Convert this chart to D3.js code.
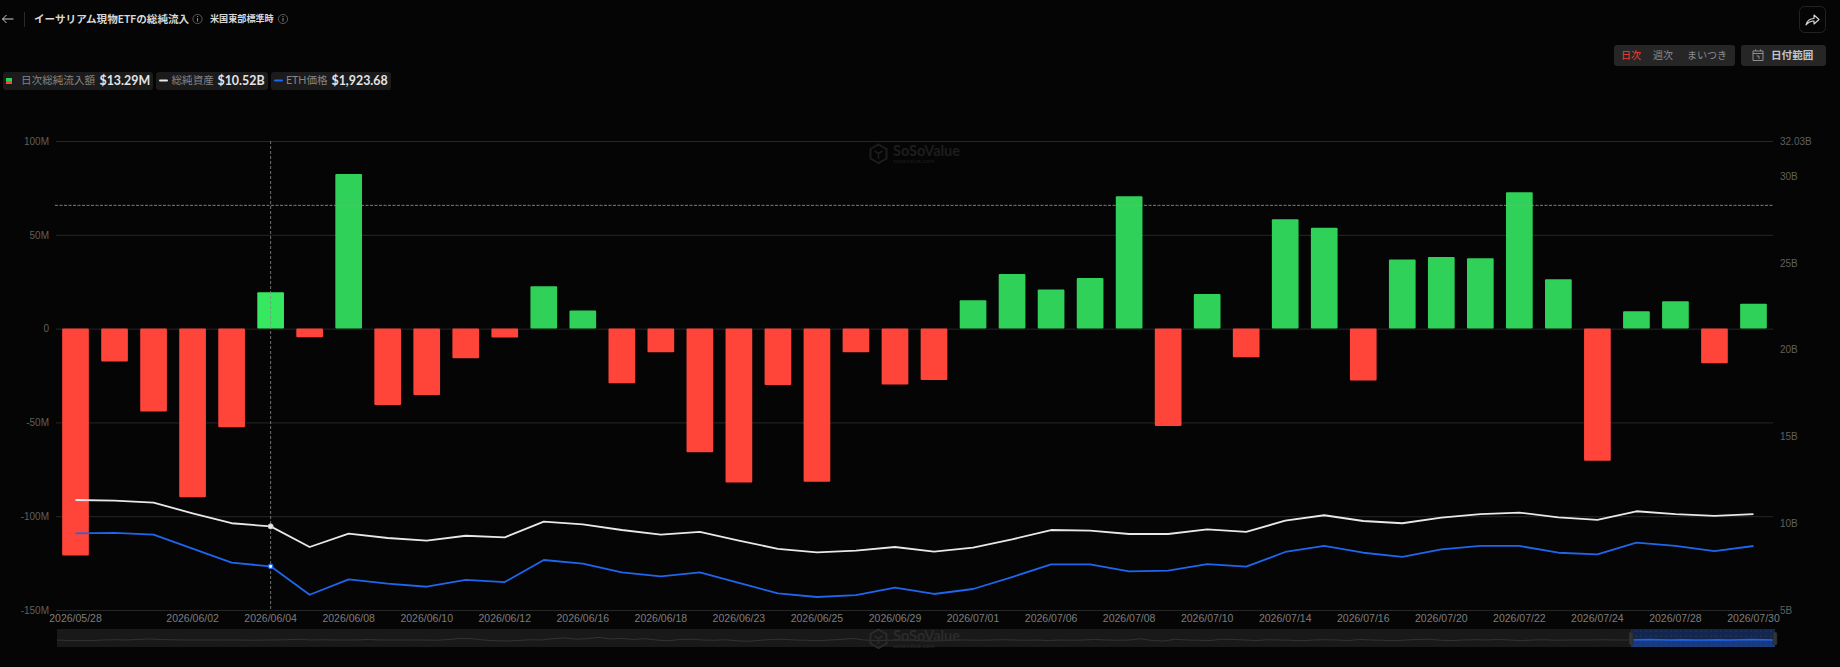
<!DOCTYPE html>
<html lang="ja">
<head>
<meta charset="utf-8">
<title>イーサリアム現物ETFの総純流入</title>
<script src="https://cdn.jsdelivr.net/npm/d3@7/dist/d3.min.js"></script>
<style>
html, body { margin: 0; padding: 0; background: #050505; overflow: hidden; }
svg { display: block; font-family: Lato, "Noto Sans CJK JP", sans-serif; }
</style>
</head>
<body>
<svg id="chart" width="1840" height="667"></svg>
<script>
const dates = [
  "2026/05/28","2026/05/29","2026/06/01","2026/06/02","2026/06/03","2026/06/04","2026/06/05",
  "2026/06/08","2026/06/09","2026/06/10","2026/06/11","2026/06/12","2026/06/15","2026/06/16",
  "2026/06/17","2026/06/18","2026/06/22","2026/06/23","2026/06/24","2026/06/25","2026/06/26",
  "2026/06/29","2026/06/30","2026/07/01","2026/07/02","2026/07/06","2026/07/07","2026/07/08",
  "2026/07/09","2026/07/10","2026/07/13","2026/07/14","2026/07/15","2026/07/16","2026/07/17",
  "2026/07/20","2026/07/21","2026/07/22","2026/07/23","2026/07/24","2026/07/27","2026/07/28",
  "2026/07/29","2026/07/30"
];
// daily net inflow, $M
const netInflow = [
  -121.0,-17.6,-44.2,-89.9,-52.6,19.4,-4.6,82.4,-40.7,-35.4,-15.8,-4.8,22.6,9.6,-29.1,-12.6,
  -65.9,-82.1,-30.0,-81.7,-12.6,-29.8,-27.4,15.1,29.1,20.8,27.0,70.5,-51.9,18.5,-15.3,58.3,
  53.8,-27.7,36.8,38.2,37.5,72.7,26.3,-70.4,9.2,14.6,-18.5,13.29
];
// total net assets, $B
const netAssets = [
  11.34,11.30,11.19,10.57,10.00,9.82,8.63,9.40,9.15,9.00,9.28,9.19,10.09,9.94,9.61,9.34,
  9.50,9.00,8.52,8.32,8.42,8.63,8.36,8.59,9.07,9.61,9.57,9.38,9.38,9.65,9.50,10.15,
  10.46,10.13,10.00,10.32,10.53,10.61,10.34,10.19,10.69,10.53,10.42,10.52
];
// ETH price, $ (its axis is hidden in the chart, so the scale is an estimate)
const ethPrice = [
  2007,2010,1999,1906,1813,1789,1601,1703,1674,1654,1699,1685,1831,1807,1749,1723,
  1749,1679,1610,1586,1599,1648,1606,1639,1718,1802,1802,1756,1760,1804,1787,1884,
  1924,1879,1851,1901,1924,1924,1879,1868,1946,1924,1890,1923.68
];
// zoom slider overview, rough reading of the faint line
const overview = [
  50,48,47,48,50,51,50,52,54,52,51,50,50,50,50,50,50,49,50,50,51,53,50,51,50,50,50,52,50,50,
  50,50,50,49,52,56,55,50,47,46,48,51,50,55,58,53,55,60,54,56,52,55,50,47,52,53,50,49,51,47,
  45,49,52,53,50,49,47,50,52,56,50,48,49,50,49,47,46,48,50,50,49,50,51,50,49,50,48,50,49,50,
  52,50,49,50,55,48,46,53,50,49,48,53,52,50,48,51,50,49,47,50,51,50,48,52,50,49,47,50,52,53,
  49,48,50,51,50,52,50,48,50,51,49,50,50,50,51,50,50,51,52,51,50,51,50,50,51,50,51,52,51,50
];

const leftTicks = [-150, -100, -50, 0, 50, 100];
const rightTicks = [5, 10, 15, 20, 25, 30, 32.03];
const shownDates = [
  "2026/05/28","2026/06/02","2026/06/04","2026/06/08","2026/06/10","2026/06/12","2026/06/16",
  "2026/06/18","2026/06/23","2026/06/25","2026/06/29","2026/07/01","2026/07/06","2026/07/08",
  "2026/07/10","2026/07/14","2026/07/16","2026/07/20","2026/07/22","2026/07/24","2026/07/28",
  "2026/07/30"
];
const hoverDate = "2026/06/04";
const hoverY = 65.7; // crosshair level on the inflow scale

const plotL = 56, plotR = 1773, plotT = 141, plotB = 610;
const svg = d3.select("#chart");

const x = d3.scaleBand().domain(dates).range([plotL, plotR]).paddingInner(0.316).paddingOuter(0.158);
const yFlow = d3.scaleLinear().domain([-150, 100]).range([plotB, plotT]);
const yAssets = d3.scaleLinear().domain([5, 32.03]).range([plotB, plotT]);
const yPrice = d3.scaleLinear().domain([1500, 4604]).range([plotB, plotT]);
const cx = d => x(d) + x.bandwidth() / 2;

svg.append("rect").attr("width", 1840).attr("height", 667).attr("fill", "#050505");

// left axis + gridlines
const gLeft = svg.append("g")
  .attr("transform", "translate(" + plotL + ",0)")
  .call(d3.axisLeft(yFlow).tickValues(leftTicks).tickSize(-(plotR - plotL)).tickPadding(7)
    .tickFormat(d => d === 0 ? "0" : d + "M"));
gLeft.select(".domain").remove();
gLeft.selectAll("line").attr("stroke", "#272727");
gLeft.selectAll("text").attr("fill", "#5f5f5f").style("font-size", "10px").style("font-family", "inherit");

// right axis
const gRight = svg.append("g")
  .attr("transform", "translate(" + plotR + ",0)")
  .call(d3.axisRight(yAssets).tickValues(rightTicks).tickSize(0).tickPadding(7)
    .tickFormat(d => d + "B"));
gRight.select(".domain").remove();
gRight.selectAll("text").attr("fill", "#5f5f5f").style("font-size", "10px").style("font-family", "inherit");

// bottom axis
const gBottom = svg.append("g")
  .attr("transform", "translate(0," + plotB + ")")
  .call(d3.axisBottom(x).tickValues(shownDates).tickSize(0).tickPadding(5));
gBottom.select(".domain").remove();
gBottom.selectAll("text").attr("fill", "#7d7d7d").style("font-size", "10.5px").style("font-family", "inherit");

drawWatermark(svg.append("g").attr("transform", "translate(870,144)"), "#1d1d1d");

// bars
svg.append("g").selectAll("rect").data(dates).join("rect")
  .attr("x", d => x(d))
  .attr("width", x.bandwidth())
  .attr("y", (d, i) => yFlow(Math.max(0, netInflow[i])))
  .attr("height", (d, i) => Math.abs(yFlow(netInflow[i]) - yFlow(0)))
  .attr("rx", 1)
  .attr("fill", (d, i) => netInflow[i] < 0 ? "#ff453a" : (d === hoverDate ? "#36e85f" : "#30d158"));

// lines
const assetsLine = d3.line().x(d => cx(d)).y((d, i) => yAssets(netAssets[i]));
const priceLine = d3.line().x(d => cx(d)).y((d, i) => yPrice(ethPrice[i]));
svg.append("path").datum(dates).attr("d", assetsLine)
  .attr("fill", "none").attr("stroke", "#e8e8e8").attr("stroke-width", 1.8).attr("stroke-linejoin", "round");
svg.append("path").datum(dates).attr("d", priceLine)
  .attr("fill", "none").attr("stroke", "#1f66ee").attr("stroke-width", 1.8).attr("stroke-linejoin", "round");

// crosshair
const hoverI = dates.indexOf(hoverDate);
svg.append("line").attr("x1", cx(hoverDate)).attr("x2", cx(hoverDate)).attr("y1", plotT).attr("y2", plotB)
  .attr("stroke", "#8a8a8a").attr("stroke-width", 0.8).attr("stroke-dasharray", "3,2");
svg.append("line").attr("x1", plotL - 1).attr("x2", plotR).attr("y1", yFlow(hoverY)).attr("y2", yFlow(hoverY))
  .attr("stroke", "#9a9a9a").attr("stroke-width", 0.8).attr("stroke-dasharray", "3,1.5");
svg.append("circle").attr("cx", cx(hoverDate)).attr("cy", yAssets(netAssets[hoverI])).attr("r", 2.6)
  .attr("fill", "#e8e8e8").attr("stroke", "#bdbdbd").attr("stroke-width", 0.8);
svg.append("circle").attr("cx", cx(hoverDate)).attr("cy", yPrice(ethPrice[hoverI])).attr("r", 2.2)
  .attr("fill", "#ffffff").attr("stroke", "#1f66ee").attr("stroke-width", 1.3);

// zoom slider
const sliderL = 57, sliderR = 1775, sliderT = 629, sliderB = 647, selL = 1631;
const defs = svg.append("defs");
const dots = defs.append("pattern").attr("id", "dots").attr("width", 5).attr("height", 5)
  .attr("patternUnits", "userSpaceOnUse");
dots.append("circle").attr("cx", 1).attr("cy", 1).attr("r", 0.5).attr("fill", "#4a4a40");
defs.append("clipPath").attr("id", "selClip").append("rect")
  .attr("x", selL).attr("y", sliderT).attr("width", sliderR - selL).attr("height", sliderB - sliderT);

svg.append("rect").attr("x", sliderL).attr("y", sliderT).attr("width", sliderR - sliderL).attr("height", sliderB - sliderT)
  .attr("fill", "#191919");
const xOver = d3.scaleLinear().domain([0, overview.length - 1]).range([sliderL, sliderR]);
const yOver = d3.scaleLinear().domain([0, 100]).range([653, 627]);
const overLine = d3.line().x((d, i) => xOver(i)).y(d => yOver(d));
svg.append("path").datum(overview).attr("d", overLine)
  .attr("fill", "none").attr("stroke", "#333333").attr("stroke-width", 1);
svg.append("rect").attr("x", selL).attr("y", sliderT).attr("width", sliderR - selL).attr("height", 11).attr("fill", "#12264f");
svg.append("rect").attr("x", selL).attr("y", sliderT + 11).attr("width", sliderR - selL).attr("height", 7).attr("fill", "#1a3a80");
svg.append("rect").attr("x", selL).attr("y", sliderT).attr("width", sliderR - selL).attr("height", sliderB - sliderT).attr("fill", "url(#dots)");
svg.append("path").datum(overview).attr("d", overLine).attr("clip-path", "url(#selClip)")
  .attr("fill", "none").attr("stroke", "#1f66ee").attr("stroke-width", 1.4);
[selL, sliderR].forEach(h => {
  svg.append("rect").attr("x", h - 2).attr("y", 632).attr("width", 4).attr("height", 13).attr("rx", 1.5)
    .attr("fill", "#333333").attr("stroke", "#222222").attr("stroke-width", 0.5);
});
drawWatermark(svg.append("g").attr("transform", "translate(870,629)"), "#2b2b2b");

// header
const header = svg.append("g");
header.append("path").attr("d", "M13.5 19H2.5M6.5 15L2.5 19L6.5 23").attr("fill", "none").attr("stroke", "#d0d0d0").attr("stroke-width", 1);
header.append("line").attr("x1", 24.5).attr("x2", 24.5).attr("y1", 12).attr("y2", 27).attr("stroke", "#2a2a2a");
label(header, 34, 19, "イーサリアム現物ETFの総純流入", 10.6, "#d8d8d8", 700);
infoIcon(header, 197.5, 19);
label(header, 210, 19, "米国東部標準時", 9.1, "#d8d8d8", 700);
infoIcon(header, 283, 19);

// share button
header.append("rect").attr("x", 1799.5).attr("y", 6.5).attr("width", 26).attr("height", 26).attr("rx", 5)
  .attr("fill", "#050505").attr("stroke", "#232323");
header.append("path").attr("d", "M1806 25C1807 21 1810 18.5 1814 18.5V15L1819 19.5L1814 24V21C1811 21 1808 22.5 1806 25Z")
  .attr("fill", "none").attr("stroke", "#d8d8d8").attr("stroke-width", 1.1).attr("stroke-linejoin", "round");

// period buttons
header.append("rect").attr("x", 1614).attr("y", 45).attr("width", 121).attr("height", 21).attr("rx", 3).attr("fill", "#262626");
label(header, 1621, 55.5, "日次", 10, "#ff3b30", 400);
label(header, 1653, 55.5, "週次", 10, "#8c8c8c", 400);
label(header, 1687, 55.5, "まいつき", 10, "#8c8c8c", 400);
header.append("rect").attr("x", 1741).attr("y", 45).attr("width", 85).attr("height", 21).attr("rx", 3).attr("fill", "#262626");
header.append("path").attr("d", "M1753 51H1763V60.5H1753ZM1753 53.5H1763M1755.5 49.5V51M1760.5 49.5V51M1756.5 56H1759V59")
  .attr("fill", "none").attr("stroke", "#a8a8a8").attr("stroke-width", 0.8);
label(header, 1771, 55.5, "日付範囲", 10.6, "#c4c4c4", 700);

// legend chips
const chips = [[3, 150], [156, 112], [271, 120]];
chips.forEach(c => {
  header.append("rect").attr("x", c[0]).attr("y", 72).attr("width", c[1]).attr("height", 18).attr("rx", 3).attr("fill", "#1b1b1b");
});
header.append("rect").attr("x", 6).attr("y", 78).attr("width", 6).attr("height", 3).attr("fill", "#30d158");
header.append("rect").attr("x", 6).attr("y", 81).attr("width", 6).attr("height", 3).attr("fill", "#ff453a");
label(header, 21, 80.5, "日次総純流入額", 10.6, "#858585", 400);
label(header, 99.5, 81, "$13.29M", 12.4, "#e4e4e4", 700);
header.append("line").attr("x1", 160).attr("x2", 167).attr("y1", 80.5).attr("y2", 80.5)
  .attr("stroke", "#e8e8e8").attr("stroke-width", 2).attr("stroke-linecap", "round");
label(header, 171.5, 80.5, "総純資産", 10.6, "#858585", 400);
label(header, 217.5, 81, "$10.52B", 12.4, "#e4e4e4", 700);
header.append("line").attr("x1", 275).attr("x2", 282).attr("y1", 80.5).attr("y2", 80.5)
  .attr("stroke", "#1f66ee").attr("stroke-width", 2).attr("stroke-linecap", "round");
label(header, 286, 80.5, "ETH価格", 10.6, "#858585", 400);
label(header, 331.5, 81, "$1,923.68", 12.4, "#e4e4e4", 700);

function label(g, px, py, text, size, color, weight) {
  return g.append("text").attr("x", px).attr("y", py).attr("dy", "0.35em")
    .attr("fill", color).style("font-size", size + "px").style("font-weight", weight).text(text);
}

function infoIcon(g, px, py) {
  g.append("circle").attr("cx", px).attr("cy", py).attr("r", 4.6).attr("fill", "none").attr("stroke", "#777").attr("stroke-width", 0.7);
  g.append("line").attr("x1", px).attr("x2", px).attr("y1", py - 1).attr("y2", py + 2.6).attr("stroke", "#999").attr("stroke-width", 0.9);
  g.append("circle").attr("cx", px).attr("cy", py - 2.5).attr("r", 0.6).attr("fill", "#999");
}

function drawWatermark(g, color) {
  g.append("path").attr("d", "M8.5 0.5L16.5 5V14.5L8.5 19L0.5 14.5V5Z").attr("fill", "none").attr("stroke", color).attr("stroke-width", 2);
  g.append("path").attr("d", "M4.5 7L8.5 9.5L12.5 7M8.5 9.5V15").attr("fill", "none").attr("stroke", color).attr("stroke-width", 1.6);
  g.append("text").attr("x", 23).attr("y", 12).attr("fill", color)
    .style("font-size", "14.5px").style("font-weight", 700).text("SoSoValue");
  g.append("text").attr("x", 23).attr("y", 19).attr("fill", color)
    .style("font-size", "6.5px").text("sosovalue.com");
}
</script>
</body>
</html>
